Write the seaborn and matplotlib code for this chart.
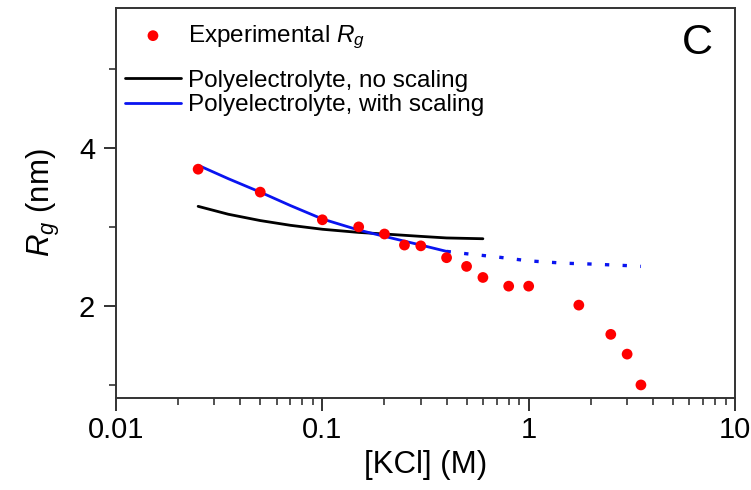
import numpy as np
import pandas as pd
import matplotlib
matplotlib.use("Agg")
import matplotlib.pyplot as plt
import seaborn as sns
from matplotlib.ticker import FixedLocator, NullFormatter, LogLocator

# Experimental radius of gyration vs KCl concentration
kcl_exp = [0.025, 0.05, 0.1, 0.15, 0.2, 0.25, 0.3, 0.4, 0.5, 0.6, 0.8, 1.0, 1.75, 2.5, 3.0, 3.5]
rg_exp = [3.73, 3.44, 3.09, 3.00, 2.91, 2.77, 2.76, 2.61, 2.50, 2.36, 2.25, 2.25, 2.01, 1.64, 1.39, 1.00]

# Polyelectrolyte model, no scaling
kcl_noscale = [0.025, 0.035, 0.05, 0.07, 0.1, 0.15, 0.2, 0.3, 0.4, 0.6]
rg_noscale = [3.26, 3.16, 3.08, 3.02, 2.97, 2.93, 2.91, 2.88, 2.86, 2.85]

# Polyelectrolyte model, with scaling (solid within fit range)
kcl_scale = [0.025, 0.035, 0.05, 0.07, 0.1, 0.15, 0.2, 0.3, 0.4]
rg_scale = [3.78, 3.61, 3.44, 3.27, 3.10, 2.96, 2.88, 2.77, 2.69]

# Extrapolation of the scaled model
kcl_extrap = [0.4, 0.5, 0.7, 1.0, 1.5, 2.0, 3.0, 3.5]
rg_extrap = [2.69, 2.66, 2.62, 2.57, 2.54, 2.53, 2.51, 2.50]

sns.set_style("ticks")
plt.rcParams["font.family"] = ["Liberation Sans", "DejaVu Sans"]
plt.rcParams["mathtext.fontset"] = "custom"
plt.rcParams["mathtext.rm"] = "Liberation Sans"
plt.rcParams["mathtext.it"] = "Liberation Sans:italic"
for key in ["text.color", "axes.labelcolor", "xtick.labelcolor", "ytick.labelcolor"]:
    plt.rcParams[key] = "black"

fig = plt.figure(figsize=(7.51, 4.90), dpi=100)
ax = fig.add_axes([0.1545, 0.1878, 0.8242, 0.7959])

df_exp = pd.DataFrame({"kcl": kcl_exp, "rg": rg_exp})
df_ns = pd.DataFrame({"kcl": kcl_noscale, "rg": rg_noscale})
df_s = pd.DataFrame({"kcl": kcl_scale, "rg": rg_scale})
df_x = pd.DataFrame({"kcl": kcl_extrap, "rg": rg_extrap})

blue = "#0a14f0"
sns.lineplot(data=df_ns, x="kcl", y="rg", ax=ax, color="black", lw=2.0,
             label="Polyelectrolyte, no scaling", sort=False)
sns.lineplot(data=df_s, x="kcl", y="rg", ax=ax, color=blue, lw=2.0,
             label="Polyelectrolyte, with scaling", sort=False)
sns.lineplot(data=df_x, x="kcl", y="rg", ax=ax, color=blue, lw=2.4,
             linestyle=(0, (1.3, 4.0)), sort=False)
sns.scatterplot(data=df_exp, x="kcl", y="rg", ax=ax, color="#ff0000", s=60,
                edgecolor="none", label="Experimental $R_g$", zorder=5)

ax.set_xscale("log")

ax.set_xticks([0.01, 0.1, 1, 10])
ax.set_xticklabels(["0.01", "0.1", "1", "10"])
ax.xaxis.set_minor_locator(LogLocator(base=10, subs=np.arange(2, 10), numticks=20))
ax.xaxis.set_minor_formatter(NullFormatter())

ax.set_yticks([2, 4, 6])
ax.set_yticklabels(["2", "4", "6"])
ax.yaxis.set_minor_locator(FixedLocator([1, 3, 5]))

ax.set_xlim(0.01, 10)
ax.set_ylim(0.835, 5.77)

ax.tick_params(axis="both", which="major", direction="out", length=9, width=1.3,
               labelsize=21, color="#222222", labelcolor="black")
ax.tick_params(axis="both", which="minor", direction="out", length=5, width=1.1,
               color="#222222")
ax.tick_params(axis="x", pad=4)
ax.tick_params(axis="y", pad=6)

for sp in ax.spines.values():
    sp.set_linewidth(1.4)
    sp.set_color("#333333")

ax.set_xlabel("[KCl] (M)", fontsize=22.5, labelpad=4, color="black")
ax.set_ylabel("$R_g$ (nm)", fontsize=22.5, labelpad=12, color="black")

handles, labels = ax.get_legend_handles_labels()
h = dict(zip(labels, handles))
leg_kw = dict(frameon=False, fontsize=17.5, handlelength=2.3, handletextpad=0.3,
              labelspacing=0.1, borderpad=0.0, borderaxespad=0.0,
              loc="center left", labelcolor="black")

leg1 = ax.legend([h["Experimental $R_g$"]], ["Experimental $R_g$"],
                 bbox_to_anchor=(0.0145, 0.925), **leg_kw)
ax.add_artist(leg1)
ax.legend([h["Polyelectrolyte, no scaling"], h["Polyelectrolyte, with scaling"]],
          ["Polyelectrolyte, no scaling", "Polyelectrolyte, with scaling"],
          bbox_to_anchor=(0.0145, 0.782), **leg_kw)

ax.text(0.9386, 0.91, "C", transform=ax.transAxes, fontsize=31,
        ha="center", va="center", color="black")

fig.savefig("out.png", dpi=100)
